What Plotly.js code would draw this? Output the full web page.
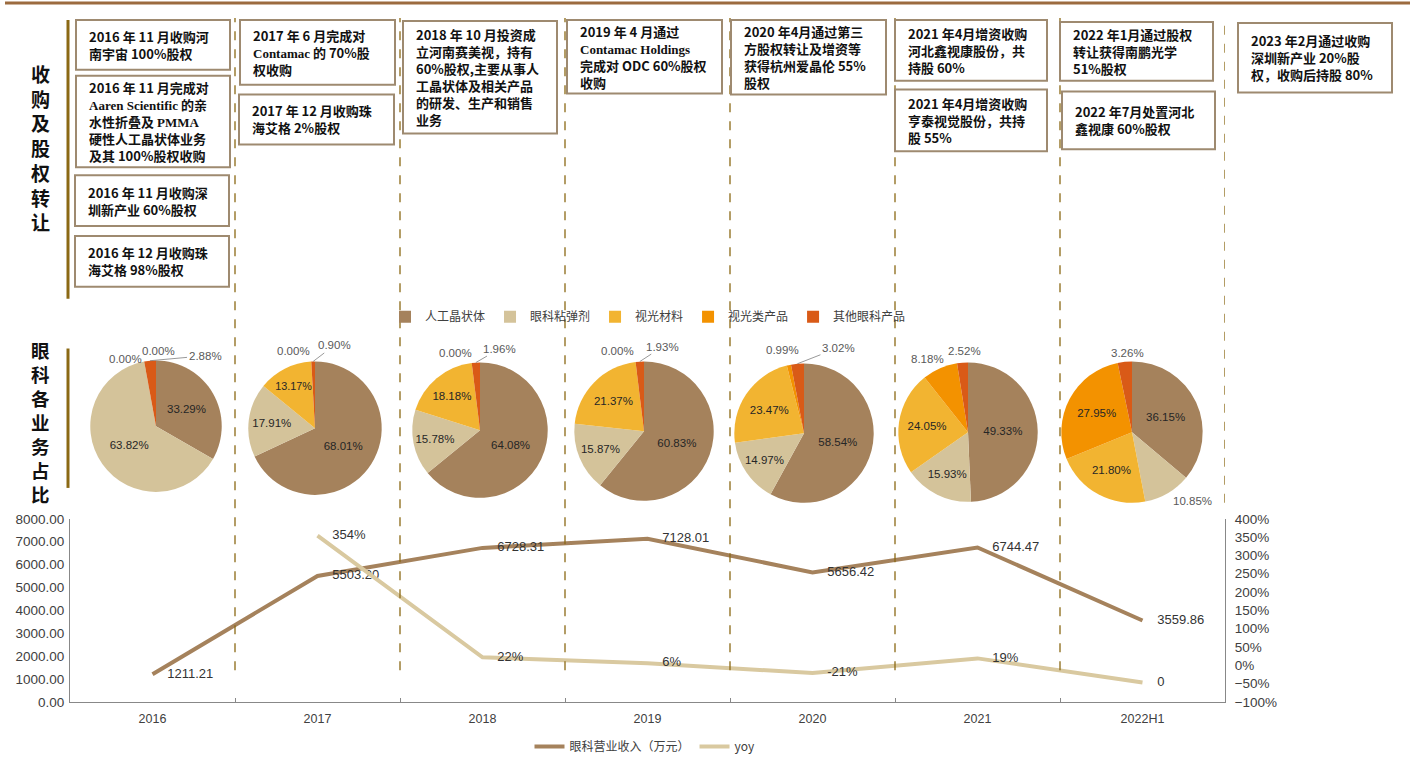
<!DOCTYPE html>
<html><head><meta charset="utf-8">
<script src="https://cdn.plot.ly/plotly-3.0.1.min.js"></script>
<style>html,body{margin:0;padding:0;background:#fff}#chart{width:1410px;height:761px}</style>
</head><body><div id="chart"></div>
<script>
// ---------- DATA ----------
const years = ['2016', '2017', '2018', '2019', '2020', '2021', '2022H1'];
const revenue = [1211.21, 5503.20, 6728.31, 7128.01, 5656.42, 6744.47, 3559.86];
const yoy = [null, 354, 22, 6, -21, 19, -47];
const yoyLabels = ['', '354%', '22%', '6%', '-21%', '19%', '0'];

const segments = ['人工晶状体', '眼科粘弹剂', '视光材料', '视光类产品', '其他眼科产品'];
const share2016 = [33.29, 63.82, 0.00, 0.00, 2.88];
const share2017 = [68.01, 17.91, 13.17, 0.00, 0.90];
const share2018 = [64.08, 15.78, 18.18, 0.00, 1.96];
const share2019 = [60.83, 15.87, 21.37, 0.00, 1.93];
const share2020 = [58.54, 14.97, 23.47, 0.99, 3.02];
const share2021 = [49.33, 15.93, 24.05, 8.18, 2.52];
const share2022H1 = [36.15, 10.85, 21.80, 27.95, 3.26];

const events = [
  '2016 年 11 月收购河<br>南宇宙 100%股权',
  '2016 年 11 月完成对<br>Aaren Scientific 的亲<br>水性折叠及 PMMA<br>硬性人工晶状体业务<br>及其 100%股权收购',
  '2016 年 11 月收购深<br>圳新产业 60%股权',
  '2016 年 12 月收购珠<br>海艾格 98%股权',
  '2017 年 6 月完成对<br>Contamac 的 70%股<br>权收购',
  '2017 年 12 月收购珠<br>海艾格 2%股权',
  '2018 年 10 月投资成<br>立河南赛美视，持有<br>60%股权,主要从事人<br>工晶状体及相关产品<br>的研发、生产和销售<br>业务',
  '2019 年 4 月通过<br>Contamac Holdings<br>完成对 ODC 60%股权<br>收购',
  '2020 年4月通过第三<br>方股权转让及增资等<br>获得杭州爱晶伦 55%<br>股权',
  '2021 年4月增资收购<br>河北鑫视康股份，共<br>持股 60%',
  '2021 年4月增资收购<br>亨泰视觉股份，共持<br>股 55%',
  '2022 年1月通过股权<br>转让获得南鹏光学<br>51%股权',
  '2022 年7月处置河北<br>鑫视康 60%股权',
  '2023 年2月通过收购<br>深圳新产业 20%股<br>权，收购后持股 80%'
];

// ---------- LAYOUT HELPERS ----------
const W = 1410, H = 761, ML = 70, MR = 185, MT = 0, MB = 56;
const PW = W - ML - MR, PH = H - MT - MB;
const px = x => (x - ML) / PW;
const py = y => (H - MB - y) / PH;

const segColors = ['#A5825C', '#D4C39A', '#F2B431', '#F39200', '#D95A17'];
const pieShares = [share2016, share2017, share2018, share2019, share2020, share2021, share2022H1];
const pieGeom = [[156, 428, 66], [315, 430, 67], [480, 432, 68], [644, 433, 70], [804, 435, 70], [968, 434, 70], [1132, 434, 71]];
const I = 'inside', N = 'none';
const piePos = [
  [I, I, N, N, N], [I, I, I, N, N], [I, I, I, N, N], [I, I, I, N, N],
  [I, I, I, N, N], [I, I, I, N, N], [I, N, I, I, N]
];
// outside labels: [slice index, dx, dy (px offset from slice edge), leader line]
const pieOutside = [
  [[2, -19, -3, false], [3, 14, -11, false], [4, 55, -5, true]],
  [[3, -18, -11, false], [4, 21, -16, true]],
  [[3, -16, -10, false], [4, 24, -14, true]],
  [[3, -18, -11, false], [4, 23, -15, true]],
  [[3, -6, -15, false], [4, 41, -16, true]],
  [[3, -12, -9, false], [4, 2, -12, false]],
  [[4, 3, -9, false], [1, 25, 8, false]]
];
const boxGeom = [
  [76, 20, 154, 50], [76, 76, 154, 92], [75, 176, 154, 51], [75, 237, 154, 51],
  [240, 20, 155, 65], [239, 95, 155, 50],
  [403, 21, 154, 113],
  [567, 20, 155, 74],
  [731, 20, 155, 75],
  [895, 20, 152, 61], [895, 90, 152, 62],
  [1060, 22, 153, 59], [1062, 92, 153, 58],
  [1238, 23, 154, 70]
];

const serif = s => '<span style="font-family:\'Liberation Serif\'">' + s + '</span>';
function styleLatin(t) {
  return t.replace('Aaren Scientific', serif('Aaren Scientific'))
          .replace('Contamac Holdings', serif('Contamac Holdings'))
          .replace('Contamac 的', serif('Contamac') + ' 的')
          .replace('PMMA', serif('PMMA'));
}

const pieFont = { family: 'Liberation Sans, Arial', size: 11.5 };
const traces = [];
pieShares.forEach((vals, i) => {
  const [cx, cy, r] = pieGeom[i];
  traces.push({
    type: 'pie', labels: segments, values: vals,
    text: vals.map(v => v.toFixed(2) + '%'), textinfo: 'text',
    textposition: piePos[i], sort: false, direction: 'clockwise', rotation: 0,
    marker: { colors: segColors, line: { width: 0 } },
    domain: { x: [px(cx - r), px(cx + r)], y: [py(cy + r), py(cy - r)] },
    legend: 'legend2', showlegend: true, hoverinfo: 'skip',
    insidetextorientation: 'horizontal', automargin: false,
    textfont: pieFont,
    insidetextfont: Object.assign({ color: '#262626' }, pieFont)
  });
});

traces.push({
  type: 'scatter', mode: 'lines', x: years, y: revenue, name: '眼科营业收入（万元）',
  line: { color: '#A5825C', width: 4 }, hoverinfo: 'skip'
});
traces.push({
  type: 'scatter', mode: 'lines', x: years, y: yoy, yaxis: 'y2', name: 'yoy',
  line: { color: '#D9C9A0', width: 4 }, hoverinfo: 'skip', connectgaps: false
});
const labelFont = { family: 'Liberation Sans, Arial', size: 13, color: '#333' };
const ghostMarker = { size: 22, color: 'rgba(0,0,0,0)', line: { width: 0 } };
traces.push({
  type: 'scatter', mode: 'markers+text', x: years, y: revenue, texttemplate: '%{y:.2f}',
  marker: ghostMarker, textposition: 'middle right', showlegend: false, hoverinfo: 'skip',
  cliponaxis: false, textfont: labelFont
});
traces.push({
  type: 'scatter', mode: 'markers+text', x: years, y: yoy, yaxis: 'y2', text: yoyLabels,
  marker: ghostMarker, textposition: 'middle right', showlegend: false, hoverinfo: 'skip',
  cliponaxis: false, textfont: labelFont
});

// ---------- shapes ----------
const shapes = [];
shapes.push({ type: 'line', xref: 'paper', yref: 'paper', x0: px(5), x1: px(1410), y0: py(3), y1: py(3),
  line: { color: '#9C6B3F', width: 3 } });
shapes.push({ type: 'line', xref: 'paper', yref: 'paper', x0: px(68), x1: px(68), y0: py(20), y1: py(300),
  line: { color: '#8B6914', width: 3 } });
shapes.push({ type: 'line', xref: 'paper', yref: 'paper', x0: px(68), x1: px(68), y0: py(350), y1: py(490),
  line: { color: '#8B6914', width: 3 } });
for (let k = 0; k < years.length; k++) {
  const last = k === years.length - 1;
  shapes.push({ type: 'line', xref: 'x', yref: 'paper', x0: k + 0.5, x1: k + 0.5,
    y0: last ? py(505) : py(673), y1: py(18),
    line: { color: '#8B6914', width: 1.3, dash: 'dash' } });
}

// ---------- annotations ----------
const annotations = [];
events.forEach((t, i) => {
  const [l, tp, w, h] = boxGeom[i];
  shapes.push({ type: 'rect', xref: 'paper', yref: 'paper', x0: px(l), x1: px(l + w), y0: py(tp + h), y1: py(tp),
    line: { color: '#9E8A70', width: 2 }, fillcolor: '#fff' });
  annotations.push({
    xref: 'paper', yref: 'paper', x: px(l + 11), y: py(tp + h / 2), xanchor: 'left', yanchor: 'middle',
    text: '<b>' + styleLatin(t) + '</b>', showarrow: false, align: 'left',
    font: { family: 'Noto Sans CJK SC', size: 13, color: '#111' }
  });
});
pieShares.forEach((vals, i) => {
  const [cx, cy, r] = pieGeom[i];
  const total = vals.reduce((a, b) => a + b, 0);
  let cum = 0;
  const mids = vals.map(v => { const m = (cum + v / 2) / total; cum += v; return m; });
  pieOutside[i].forEach(([k, dx, dy, leader]) => {
    const th = 2 * Math.PI * mids[k];
    const ex = cx + r * Math.sin(th), ey = cy - r * Math.cos(th);
    const a = {
      xref: 'paper', yref: 'paper', x: px(ex), y: py(ey), xanchor: 'center', yanchor: 'middle',
      text: vals[k].toFixed(2) + '%', font: Object.assign({ color: '#595959' }, pieFont)
    };
    if (leader) {
      Object.assign(a, { showarrow: true, ax: dx, ay: dy, arrowhead: 0, arrowwidth: 0.8,
        arrowcolor: '#7f7f7f', standoff: 0, startstandoff: 0 });
    } else {
      Object.assign(a, { showarrow: false, xshift: dx, yshift: -dy });
    }
    annotations.push(a);
  });
});
annotations.push({
  xref: 'paper', yref: 'paper', x: px(40), y: py(148), xanchor: 'center', yanchor: 'middle',
  text: '<b>' + '收购及股权转让'.split('').join('<br>') + '</b>', showarrow: false,
  font: { family: 'Noto Sans CJK SC', size: 19, color: '#111' }
});
annotations.push({
  xref: 'paper', yref: 'paper', x: px(40), y: py(424), xanchor: 'center', yanchor: 'middle',
  text: '<b>' + '眼科各业务占比'.split('').join('<br>') + '</b>', showarrow: false,
  font: { family: 'Noto Sans CJK SC', size: 18.5, color: '#111' }
});

const axisFont = { family: 'Liberation Sans, Arial', size: 13.5, color: '#404040' };
const layout = {
  width: W, height: H,
  margin: { l: ML, r: MR, t: MT, b: MB },
  paper_bgcolor: '#fff', plot_bgcolor: 'rgba(0,0,0,0)',
  showlegend: true,
  xaxis: {
    type: 'category', range: [-0.5, years.length - 0.5], autorange: false,
    tickson: 'boundaries', ticks: 'inside', ticklen: 4, tickcolor: '#888',
    showline: true, linecolor: '#888', linewidth: 1, showgrid: false, zeroline: false,
    tickfont: { family: 'Liberation Sans, Arial', size: 12.5, color: '#404040' },
    ticklabelstandoff: 5, fixedrange: true
  },
  yaxis: {
    domain: [0, py(521)], range: [0, 8000], autorange: false, dtick: 1000, tickformat: '.2f',
    showline: true, linecolor: '#888', showgrid: false, zeroline: false, ticks: '',
    ticklabelstandoff: 2, tickfont: axisFont, fixedrange: true
  },
  yaxis2: {
    overlaying: 'y', side: 'right', anchor: 'x', range: [-100, 400], autorange: false, dtick: 50, ticksuffix: '%',
    showline: true, linecolor: '#888', showgrid: false, zeroline: false, ticks: '',
    ticklabelstandoff: 6, tickfont: axisFont, fixedrange: true
  },
  legend: {
    orientation: 'h', x: px(645), xanchor: 'center', y: py(750), yanchor: 'middle',
    font: { family: 'Noto Sans CJK SC', size: 12, color: '#404040' }, bgcolor: 'rgba(0,0,0,0)'
  },
  legend2: {
    orientation: 'h', x: px(648), xanchor: 'center', y: py(318), yanchor: 'middle',
    font: { family: 'Noto Sans CJK SC', size: 12, color: '#404040' }, bgcolor: 'rgba(0,0,0,0)'
  },
  shapes: shapes,
  annotations: annotations,
  hovermode: false
};

Plotly.newPlot('chart', traces, layout, { displayModeBar: false, staticPlot: true });
</script>
</body></html>
